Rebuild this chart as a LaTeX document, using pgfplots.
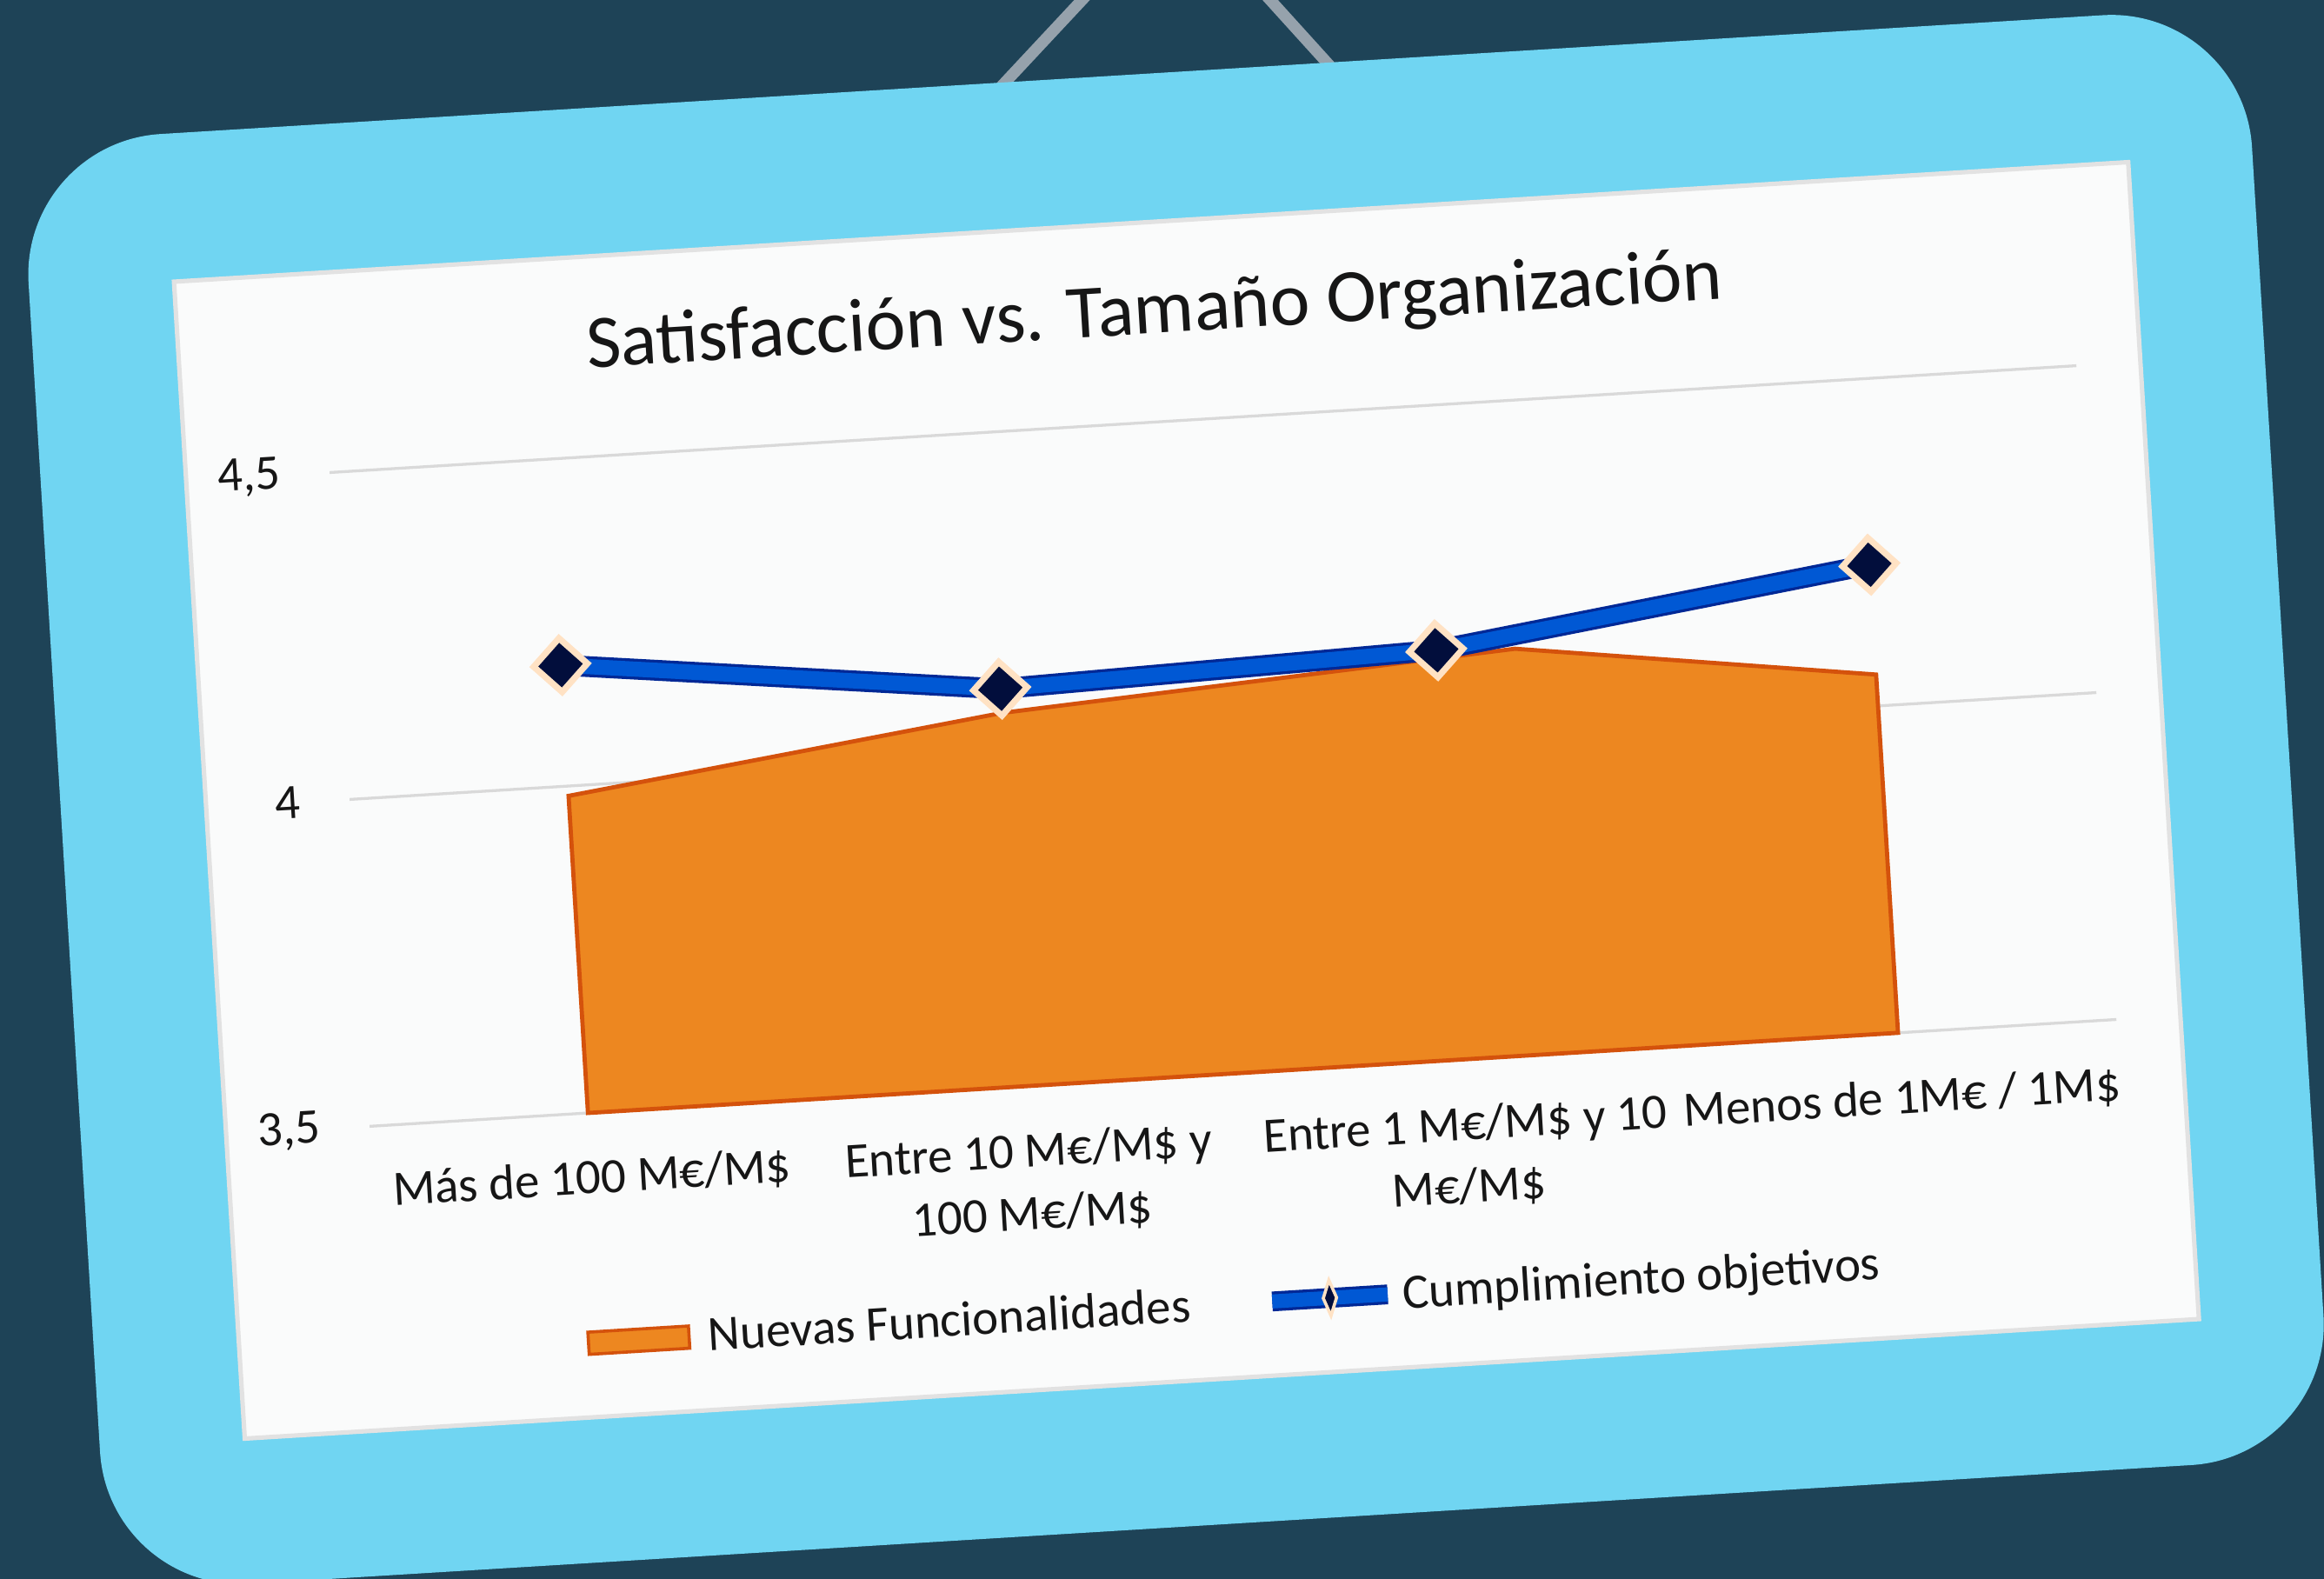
\documentclass[border=0pt]{standalone}
\usepackage{fontspec}
\setmainfont{Carlito}
\usepackage{pgfplots}
\pgfplotsset{compat=1.18}
\definecolor{bgc}{RGB}{30,67,87}
\definecolor{frameblue}{RGB}{112,213,242}
\definecolor{panel}{RGB}{250,251,251}
\definecolor{panelborder}{RGB}{226,226,226}
\definecolor{hanger}{RGB}{150,162,172}
\definecolor{gridc}{RGB}{217,217,217}
\definecolor{orangefill}{RGB}{237,135,32}
\definecolor{orangeedge}{RGB}{212,82,12}
\definecolor{blueline}{RGB}{0,88,212}
\definecolor{bluedark}{RGB}{0,40,150}
\definecolor{navy}{RGB}{2,14,60}
\definecolor{peach}{RGB}{255,226,196}
\definecolor{txt}{RGB}{22,22,22}
\begin{document}
\begin{tikzpicture}[x=0.02cm,y=0.02cm]
\fill[bgc] (0,0) rectangle (1568,-1065);
\draw[hanger, line width=4.4pt] (660,-75) -- (794.5,69) -- (915,-64);
\begin{scope}[shift={(800,-540)}, rotate=3.5]
\fill[frameblue, rounded corners=1.9cm] (-758,-489) rectangle (745,491);
\filldraw[fill=panel, draw=panelborder, line width=1.7pt] (-660,-391) rectangle (661,391);
\end{scope}
\begin{scope}[transform canvas={shift={(16cm,-10.8cm)}, rotate=3.5}]
\begin{axis}[
  scale only axis, width=23.62cm, height=8.84cm,
  at={(-11.26cm,-3.72cm)}, anchor=south west,
  xmin=-0.5, xmax=3.5, ymin=3.5, ymax=4.5,
  xtick={0,1,2,3},
  xticklabels={M\'as de 100 M€/M\$, {Entre 10 M€/M\$ y\\100 M€/M\$}, {Entre 1 M€/M\$ y 10\\M€/M\$}, Menos de 1M€ / 1M\$},
  ytick={3.5,4,4.5},
  ymajorgrids, grid style={color=gridc, line width=1.1pt},
  axis line style={draw=none}, major tick length=0pt,
  clip=false,
  /pgf/number format/assume math mode=true,
  /pgf/number format/use comma,
  tick label style={font=\fontsize{19}{24}\selectfont, color=txt},
  yticklabel style={anchor=east, inner sep=0pt, xshift=-0.66cm},
  xticklabel style={anchor=north, inner sep=0pt, yshift=-0.62cm, align=center},
  title={Satisfacción vs. Tamaño Organización},
  title style={at={(0.476,1)}, anchor=center, yshift=1.25cm, font=\fontsize{29}{34}\selectfont, color=txt},
  legend columns=2,
  legend style={at={(0.488,-0.351)}, anchor=center, draw=none, fill=none,
    font=\fontsize{19}{23}\selectfont, text=txt,
    /tikz/every even column/.append style={column sep=0.9cm}},
]
\addplot[fill=orangefill, draw=orangeedge, line width=1.6pt,
  legend image code/.code={\filldraw[fill=orangefill, draw=orangeedge, line width=1.2pt] (0cm,-0.15cm) rectangle (1.36cm,0.15cm); \path (1.52cm,0cm);}]
  coordinates {(0,3.5) (0,3.985) (1,4.071) (2.18,4.121) (3,4.048) (3,3.5)} -- cycle;
\addlegendentry{Nuevas Funcionalidades}
\addplot[forget plot, color=bluedark, line width=8pt, mark=none]
  coordinates {(0,4.185) (1,4.108) (2,4.126) (3,4.216)};
\addplot[color=blueline, line width=5.8pt, mark=square*, mark size=7.3pt,
  mark options={rotate=45, fill=navy, draw=peach, line width=2.4pt, solid},
  legend image code/.code={
    \draw[bluedark, line width=7.6pt] (0cm,0cm) -- (1.56cm,0cm);
    \draw[blueline, line width=5.4pt] (0cm,0cm) -- (1.56cm,0cm);
    \filldraw[fill=navy, draw=peach, line width=1.2pt] (0.78cm,0.24cm) -- (0.87cm,0cm) -- (0.78cm,-0.24cm) -- (0.69cm,0cm) -- cycle;}]
  coordinates {(0,4.185) (1,4.108) (2,4.126) (3,4.216)};
\addlegendentry{Cumplimiento objetivos}
\end{axis}
\end{scope}
\pgfresetboundingbox
\path[use as bounding box] (0,0) rectangle (1568,-1065);
\end{tikzpicture}
\end{document}
